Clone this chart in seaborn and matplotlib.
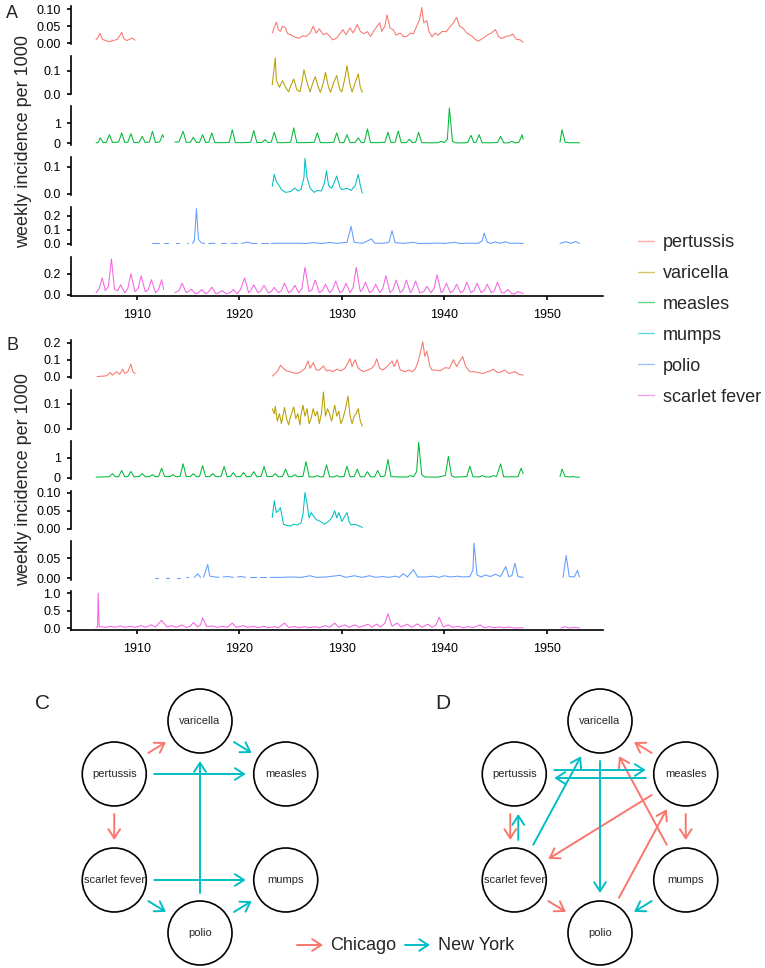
import numpy as np
import pandas as pd
import seaborn as sns
import matplotlib.pyplot as plt
from matplotlib.lines import Line2D
from matplotlib.patches import Circle, FancyArrowPatch

sns.set_theme(style='ticks')
plt.rcParams['font.family'] = ['Liberation Sans', 'DejaVu Sans']

diseases = ['pertussis', 'varicella', 'measles', 'mumps', 'polio', 'scarlet fever']
colors = ['#F8766D', '#B79F00', '#00BA38', '#00BFC4', '#619CFF', '#F564E3']
city_colors = {'Chicago': '#F8766D', 'New York': '#00BFC4'}
years_ticks = [1910, 1920, 1930, 1940, 1950]

# ---- panel A, weekly incidence per 1000 (segments split at gaps)
a_pertussis = [
    [(1906.0, 0.011), (1906.2, 0.018), (1906.4, 0.029), (1906.6, 0.012), (1906.9, 0.008), (1907.3, 0.005),
     (1907.7, 0.008), (1908.1, 0.012), (1908.5, 0.032), (1908.7, 0.014), (1909.0, 0.008), (1909.3, 0.012),
     (1909.5, 0.016), (1909.8, 0.009)],
    [(1923.2, 0.03), (1923.6, 0.062), (1923.8, 0.04), (1924.0, 0.035), (1924.2, 0.05), (1924.5, 0.045),
     (1924.7, 0.028), (1925.0, 0.025), (1925.4, 0.018), (1925.8, 0.015), (1926.2, 0.022), (1926.5, 0.02),
     (1926.9, 0.03), (1927.2, 0.05), (1927.5, 0.03), (1927.8, 0.042), (1928.2, 0.025), (1928.5, 0.03),
     (1928.9, 0.018), (1929.1, 0.01), (1929.5, 0.015), (1930.1, 0.04), (1930.4, 0.025), (1930.8, 0.045),
     (1931.1, 0.03), (1931.5, 0.055), (1931.8, 0.035), (1932.1, 0.028), (1932.5, 0.034), (1932.8, 0.02),
     (1933.2, 0.04), (1933.7, 0.06), (1933.9, 0.035), (1934.2, 0.05), (1934.4, 0.083), (1934.7, 0.045),
     (1935.0, 0.04), (1935.3, 0.024), (1935.7, 0.03), (1936.0, 0.02), (1936.3, 0.019), (1936.7, 0.03),
     (1937.0, 0.028), (1937.3, 0.05), (1937.6, 0.07), (1937.8, 0.105), (1938.0, 0.06), (1938.3, 0.066),
     (1938.5, 0.035), (1938.8, 0.019), (1939.1, 0.03), (1939.4, 0.024), (1939.8, 0.035), (1940.2, 0.034),
     (1940.6, 0.05), (1940.9, 0.06), (1941.2, 0.076), (1941.5, 0.05), (1941.8, 0.045), (1942.2, 0.03),
     (1942.7, 0.021), (1943.0, 0.012), (1943.3, 0.006), (1943.8, 0.015), (1944.2, 0.024), (1944.6, 0.03),
     (1945.0, 0.04), (1945.3, 0.02), (1945.6, 0.014), (1946.0, 0.02), (1946.4, 0.022), (1946.7, 0.027),
     (1947.0, 0.012), (1947.4, 0.01), (1947.7, 0.003)],
]
a_varicella = [
    [(1923.2, 0.04), (1923.5, 0.157), (1923.6, 0.06), (1923.9, 0.03), (1924.2, 0.058), (1924.5, 0.03),
     (1924.8, 0.01), (1925.0, 0.035), (1925.3, 0.066), (1925.6, 0.02), (1925.9, 0.01), (1926.1, 0.05),
     (1926.3, 0.105), (1926.6, 0.05), (1926.9, 0.01), (1927.1, 0.04), (1927.4, 0.075), (1927.7, 0.03),
     (1927.9, 0.008), (1928.2, 0.05), (1928.4, 0.094), (1928.7, 0.03), (1928.9, 0.008), (1929.2, 0.05),
     (1929.5, 0.08), (1929.8, 0.02), (1930.0, 0.01), (1930.3, 0.07), (1930.5, 0.123), (1930.8, 0.04),
     (1931.0, 0.01), (1931.3, 0.05), (1931.6, 0.087), (1931.8, 0.03), (1932.0, 0.007)],
]
a_measles = [
    [(1906.0, 0.02), (1906.2, 0.04), (1906.4, 0.27), (1906.7, 0.03), (1907.0, 0.05), (1907.3, 0.43),
     (1907.6, 0.04), (1908.2, 0.06), (1908.5, 0.52), (1908.8, 0.04), (1909.1, 0.06), (1909.4, 0.48),
     (1909.7, 0.03), (1910.2, 0.05), (1910.5, 0.35), (1910.8, 0.04), (1911.2, 0.06), (1911.5, 0.6),
     (1911.8, 0.04), (1912.2, 0.06), (1912.5, 0.43), (1912.6, 0.3)],
    [(1913.7, 0.06), (1914.1, 0.07), (1914.5, 0.6), (1914.8, 0.05), (1915.2, 0.05), (1915.5, 0.3),
     (1915.8, 0.04), (1916.1, 0.05), (1916.4, 0.43), (1916.7, 0.04), (1917.0, 0.05), (1917.3, 0.52),
     (1917.6, 0.03), (1918.3, 0.03), (1919.0, 0.04), (1919.3, 0.68), (1919.6, 0.03), (1920.4, 0.03),
     (1921.1, 0.05), (1921.4, 0.64), (1921.7, 0.03), (1922.2, 0.04), (1922.5, 0.18), (1922.8, 0.03),
     (1923.1, 0.05), (1923.4, 0.55), (1923.7, 0.03), (1924.4, 0.03), (1925.0, 0.05), (1925.3, 0.77),
     (1925.6, 0.03), (1926.5, 0.03), (1927.3, 0.05), (1927.6, 0.52), (1927.9, 0.03), (1928.6, 0.03),
     (1929.2, 0.05), (1929.5, 0.52), (1929.8, 0.03), (1930.2, 0.04), (1930.5, 0.43), (1930.8, 0.03),
     (1931.3, 0.04), (1931.6, 0.27), (1931.9, 0.03), (1932.2, 0.05), (1932.5, 0.72), (1932.8, 0.03),
     (1933.6, 0.03), (1934.2, 0.05), (1934.5, 0.55), (1934.8, 0.03), (1935.2, 0.05), (1935.5, 0.62),
     (1935.8, 0.03), (1936.3, 0.03), (1936.6, 0.2), (1936.9, 0.03), (1937.2, 0.05), (1937.5, 0.55),
     (1937.8, 0.03), (1938.8, 0.02), (1939.4, 0.03), (1939.7, 0.1), (1940.0, 0.03), (1940.3, 0.2),
     (1940.5, 1.77), (1940.8, 0.1), (1941.1, 0.02), (1942.0, 0.02), (1942.3, 0.05), (1942.6, 0.4),
     (1942.9, 0.03), (1943.1, 0.05), (1943.4, 0.43), (1943.7, 0.03), (1944.5, 0.02), (1945.2, 0.04),
     (1945.5, 0.35), (1945.8, 0.02), (1946.3, 0.02), (1946.6, 0.1), (1946.9, 0.02), (1947.3, 0.05),
     (1947.6, 0.43), (1947.7, 0.2)],
    [(1951.3, 0.05), (1951.5, 0.68), (1951.8, 0.05), (1952.3, 0.02), (1952.8, 0.03), (1953.2, 0.02)],
]
a_mumps = [
    [(1923.2, 0.027), (1923.4, 0.071), (1923.6, 0.045), (1923.8, 0.034), (1924.1, 0.015), (1924.5, 0.005),
     (1925.0, 0.008), (1925.4, 0.021), (1925.7, 0.01), (1926.0, 0.015), (1926.3, 0.06), (1926.4, 0.13),
     (1926.6, 0.059), (1926.9, 0.02), (1927.3, 0.005), (1927.6, 0.012), (1928.0, 0.01), (1928.3, 0.04),
     (1928.5, 0.084), (1928.7, 0.03), (1929.0, 0.02), (1929.3, 0.045), (1929.5, 0.065), (1929.8, 0.025),
     (1930.0, 0.015), (1930.5, 0.02), (1930.9, 0.012), (1931.3, 0.03), (1931.6, 0.071), (1931.8, 0.03),
     (1932.0, 0.002)],
]
a_polio = [
    [(1911.5, 0.002), (1912.1, 0.002)], [(1912.6, 0.002), (1913.0, 0.002)], [(1913.8, 0.002), (1914.1, 0.002)],
    [(1914.9, 0.002), (1915.0, 0.002)],
    [(1915.4, 0.002), (1915.6, 0.02), (1915.8, 0.25), (1916.0, 0.03), (1916.3, 0.005), (1916.6, 0.002)],
    [(1917.0, 0.002), (1917.6, 0.003)], [(1918.2, 0.002), (1918.7, 0.002)], [(1919.2, 0.003), (1919.8, 0.002)],
    [(1920.2, 0.002), (1920.8, 0.012), (1921.2, 0.002), (1921.7, 0.002)], [(1922.1, 0.002), (1922.8, 0.002)],
    [(1923.1, 0.002), (1924.0, 0.004), (1924.8, 0.003), (1925.6, 0.004), (1926.5, 0.002), (1927.3, 0.008),
     (1928.0, 0.002), (1928.8, 0.009), (1929.5, 0.003), (1930.5, 0.01), (1930.9, 0.124), (1931.2, 0.01),
     (1932.0, 0.003), (1932.9, 0.034), (1933.2, 0.004), (1934.0, 0.003), (1934.6, 0.01), (1934.9, 0.093),
     (1935.2, 0.008), (1936.0, 0.003), (1937.0, 0.01), (1937.5, 0.002), (1938.5, 0.003), (1939.4, 0.005),
     (1940.0, 0.002), (1941.0, 0.01), (1941.5, 0.002), (1942.5, 0.004), (1943.3, 0.003), (1943.7, 0.02),
     (1943.9, 0.076), (1944.2, 0.01), (1944.6, 0.003), (1945.0, 0.014), (1945.4, 0.003), (1946.0, 0.014),
     (1946.4, 0.003), (1947.0, 0.004), (1947.7, 0.002)],
    [(1951.3, 0.002), (1951.9, 0.015), (1952.3, 0.003), (1952.8, 0.015), (1953.2, 0.002)],
]
a_scarlet = [
    [(1906.0, 0.02), (1906.3, 0.06), (1906.6, 0.16), (1906.9, 0.04), (1907.2, 0.08), (1907.5, 0.34),
     (1907.8, 0.05), (1908.1, 0.04), (1908.4, 0.095), (1908.8, 0.02), (1909.1, 0.06), (1909.4, 0.2),
     (1909.8, 0.03), (1910.1, 0.06), (1910.4, 0.18), (1910.8, 0.03), (1911.1, 0.05), (1911.4, 0.143),
     (1911.8, 0.02), (1912.1, 0.05), (1912.4, 0.143), (1912.6, 0.05)],
    [(1913.7, 0.02), (1914.1, 0.04), (1914.4, 0.11), (1914.8, 0.02), (1915.0, 0.03), (1915.3, 0.054),
     (1915.7, 0.01), (1916.0, 0.02), (1916.3, 0.05), (1916.7, 0.01), (1917.0, 0.03), (1917.3, 0.073),
     (1917.7, 0.01), (1918.0, 0.02), (1918.3, 0.04), (1918.7, 0.01), (1919.1, 0.02), (1919.4, 0.05),
     (1919.8, 0.01), (1920.1, 0.05), (1920.5, 0.16), (1920.9, 0.02), (1921.1, 0.04), (1921.4, 0.095),
     (1921.8, 0.02), (1922.1, 0.04), (1922.4, 0.09), (1922.8, 0.02), (1923.1, 0.03), (1923.4, 0.07),
     (1923.8, 0.02), (1924.1, 0.04), (1924.4, 0.11), (1924.8, 0.02), (1925.1, 0.04), (1925.4, 0.09),
     (1925.8, 0.02), (1926.1, 0.06), (1926.4, 0.26), (1926.8, 0.03), (1927.1, 0.05), (1927.4, 0.14),
     (1927.8, 0.02), (1928.1, 0.04), (1928.4, 0.1), (1928.8, 0.02), (1929.1, 0.05), (1929.4, 0.13),
     (1929.8, 0.02), (1930.1, 0.04), (1930.4, 0.11), (1930.8, 0.02), (1931.1, 0.07), (1931.4, 0.26),
     (1931.8, 0.03), (1932.0, 0.05), (1932.3, 0.12), (1932.7, 0.02), (1933.0, 0.04), (1933.3, 0.1),
     (1933.7, 0.02), (1934.0, 0.06), (1934.3, 0.18), (1934.7, 0.02), (1935.0, 0.05), (1935.3, 0.14),
     (1935.7, 0.02), (1936.0, 0.05), (1936.3, 0.14), (1936.7, 0.02), (1936.9, 0.05), (1937.2, 0.13),
     (1937.6, 0.02), (1938.0, 0.03), (1938.3, 0.08), (1938.7, 0.02), (1939.0, 0.06), (1939.3, 0.19),
     (1939.7, 0.02), (1939.9, 0.04), (1940.2, 0.11), (1940.6, 0.02), (1940.9, 0.04), (1941.2, 0.1),
     (1941.6, 0.02), (1941.9, 0.04), (1942.2, 0.12), (1942.6, 0.02), (1942.9, 0.04), (1943.2, 0.11),
     (1943.6, 0.02), (1943.9, 0.04), (1944.2, 0.1), (1944.6, 0.02), (1944.9, 0.04), (1945.2, 0.12),
     (1945.6, 0.02), (1945.9, 0.02), (1946.2, 0.05), (1946.6, 0.01), (1946.9, 0.01), (1947.2, 0.03),
     (1947.7, 0.01)],
]

# ---- panel B
b_pertussis = [
    [(1906.1, 0.002), (1906.5, 0.004), (1907.0, 0.006), (1907.4, 0.025), (1907.6, 0.01), (1908.0, 0.03),
     (1908.3, 0.015), (1908.6, 0.045), (1908.8, 0.02), (1909.1, 0.03), (1909.4, 0.074), (1909.6, 0.03),
     (1909.8, 0.02)],
    [(1923.2, 0.005), (1923.5, 0.02), (1923.8, 0.04), (1924.0, 0.068), (1924.3, 0.05), (1924.6, 0.035),
     (1924.9, 0.03), (1925.2, 0.025), (1925.6, 0.02), (1926.0, 0.03), (1926.4, 0.05), (1926.7, 0.093),
     (1926.9, 0.05), (1927.2, 0.083), (1927.5, 0.04), (1927.8, 0.04), (1928.2, 0.064), (1928.5, 0.035),
     (1928.8, 0.04), (1929.1, 0.03), (1929.5, 0.045), (1929.9, 0.035), (1930.3, 0.05), (1930.8, 0.106),
     (1931.0, 0.06), (1931.3, 0.1), (1931.6, 0.05), (1932.1, 0.03), (1932.5, 0.04), (1932.9, 0.05),
     (1933.2, 0.07), (1933.4, 0.106), (1933.7, 0.05), (1934.0, 0.04), (1934.4, 0.06), (1934.9, 0.093),
     (1935.1, 0.06), (1935.4, 0.1), (1935.7, 0.04), (1936.2, 0.03), (1936.5, 0.04), (1936.9, 0.03),
     (1937.2, 0.05), (1937.5, 0.1), (1937.7, 0.15), (1937.9, 0.205), (1938.1, 0.12), (1938.3, 0.15),
     (1938.6, 0.06), (1938.8, 0.04), (1939.2, 0.04), (1939.6, 0.035), (1940.1, 0.054), (1940.5, 0.05),
     (1940.9, 0.1), (1941.2, 0.06), (1941.5, 0.09), (1941.8, 0.118), (1942.1, 0.06), (1942.5, 0.03),
     (1942.9, 0.03), (1943.3, 0.025), (1943.8, 0.02), (1944.2, 0.03), (1944.5, 0.035), (1944.8, 0.045),
     (1945.2, 0.025), (1945.6, 0.03), (1945.9, 0.04), (1946.3, 0.02), (1946.6, 0.025), (1946.9, 0.03),
     (1947.3, 0.015), (1947.7, 0.01)],
]
b_varicella = [
    [(1923.2, 0.08), (1923.4, 0.06), (1923.5, 0.09), (1923.7, 0.03), (1923.9, 0.06), (1924.1, 0.02),
     (1924.4, 0.085), (1924.6, 0.04), (1924.8, 0.015), (1925.0, 0.05), (1925.3, 0.087), (1925.5, 0.04),
     (1925.7, 0.06), (1925.9, 0.015), (1926.0, 0.05), (1926.2, 0.094), (1926.4, 0.05), (1926.6, 0.08),
     (1926.8, 0.02), (1927.0, 0.04), (1927.2, 0.08), (1927.4, 0.05), (1927.6, 0.07), (1927.8, 0.02),
     (1928.0, 0.06), (1928.2, 0.147), (1928.4, 0.05), (1928.6, 0.08), (1928.8, 0.06), (1929.0, 0.03),
     (1929.3, 0.094), (1929.5, 0.05), (1929.7, 0.07), (1929.9, 0.02), (1930.1, 0.04), (1930.3, 0.07),
     (1930.6, 0.13), (1930.8, 0.05), (1931.0, 0.02), (1931.2, 0.05), (1931.4, 0.06), (1931.6, 0.08),
     (1931.8, 0.03), (1932.0, 0.01)],
]
b_measles = [
    [(1906.0, 0.02), (1906.5, 0.03), (1907.0, 0.04), (1907.3, 0.05), (1907.6, 0.2), (1907.9, 0.04),
     (1908.2, 0.05), (1908.5, 0.36), (1908.8, 0.04), (1909.1, 0.05), (1909.4, 0.31), (1909.7, 0.04),
     (1910.2, 0.05), (1910.5, 0.2), (1910.8, 0.04), (1911.2, 0.04), (1911.5, 0.15), (1911.8, 0.04),
     (1912.1, 0.05), (1912.4, 0.48), (1912.7, 0.05), (1913.2, 0.05), (1913.5, 0.15), (1913.8, 0.04),
     (1914.2, 0.06), (1914.5, 0.7), (1914.8, 0.05), (1915.2, 0.05), (1915.5, 0.2), (1915.8, 0.04),
     (1916.1, 0.06), (1916.4, 0.61), (1916.7, 0.05), (1917.1, 0.05), (1917.4, 0.2), (1917.7, 0.04),
     (1918.2, 0.06), (1918.5, 0.56), (1918.8, 0.05), (1919.1, 0.05), (1919.4, 0.25), (1919.7, 0.04),
     (1920.1, 0.05), (1920.4, 0.26), (1920.7, 0.04), (1921.1, 0.05), (1921.4, 0.3), (1921.7, 0.04),
     (1922.1, 0.06), (1922.4, 0.56), (1922.7, 0.05), (1923.2, 0.05), (1923.5, 0.2), (1923.8, 0.04),
     (1924.2, 0.05), (1924.5, 0.43), (1924.8, 0.04), (1925.1, 0.04), (1925.4, 0.15), (1925.7, 0.04),
     (1926.2, 0.06), (1926.5, 0.81), (1926.8, 0.04), (1927.3, 0.03), (1927.6, 0.1), (1927.9, 0.03),
     (1928.2, 0.05), (1928.5, 0.65), (1928.8, 0.04), (1929.2, 0.03), (1929.5, 0.1), (1929.8, 0.03),
     (1930.2, 0.05), (1930.5, 0.58), (1930.8, 0.04), (1931.2, 0.05), (1931.5, 0.43), (1931.8, 0.04),
     (1932.2, 0.04), (1932.5, 0.3), (1932.8, 0.04), (1933.2, 0.04), (1933.5, 0.36), (1933.8, 0.04),
     (1934.2, 0.08), (1934.5, 0.92), (1934.8, 0.05), (1935.5, 0.03), (1936.4, 0.03), (1936.7, 0.1),
     (1937.0, 0.04), (1937.3, 0.3), (1937.5, 1.8), (1937.8, 0.15), (1938.1, 0.03), (1939.3, 0.02),
     (1940.1, 0.1), (1940.4, 1.08), (1940.7, 0.1), (1941.0, 0.02), (1942.2, 0.05), (1942.5, 0.58),
     (1942.8, 0.04), (1943.4, 0.03), (1943.7, 0.1), (1944.0, 0.03), (1944.5, 0.03), (1944.8, 0.1),
     (1945.1, 0.05), (1945.5, 0.7), (1945.8, 0.04), (1946.3, 0.03), (1946.6, 0.05), (1946.9, 0.03),
     (1947.2, 0.05), (1947.5, 0.48), (1947.7, 0.2)],
    [(1951.3, 0.05), (1951.5, 0.43), (1951.8, 0.05), (1952.3, 0.03), (1952.6, 0.05), (1952.9, 0.02),
     (1953.2, 0.02)],
]
b_mumps = [
    [(1923.2, 0.031), (1923.4, 0.078), (1923.6, 0.045), (1923.8, 0.05), (1924.0, 0.059), (1924.3, 0.012),
     (1924.7, 0.008), (1925.0, 0.007), (1925.3, 0.012), (1925.6, 0.01), (1926.0, 0.015), (1926.2, 0.04),
     (1926.4, 0.101), (1926.6, 0.07), (1926.8, 0.03), (1927.0, 0.045), (1927.2, 0.036), (1927.5, 0.025),
     (1927.9, 0.02), (1928.3, 0.012), (1928.7, 0.02), (1929.0, 0.03), (1929.3, 0.05), (1929.5, 0.03),
     (1929.7, 0.045), (1930.0, 0.02), (1930.3, 0.035), (1930.5, 0.045), (1930.7, 0.02), (1930.9, 0.01),
     (1931.3, 0.012), (1931.6, 0.008), (1932.0, 0.003)],
]
b_polio = [
    [(1911.8, 0.001), (1912.0, 0.001)], [(1912.8, 0.001), (1913.1, 0.001)], [(1913.9, 0.001), (1914.2, 0.001)],
    [(1914.8, 0.002), (1915.0, 0.002)], [(1915.6, 0.002), (1915.9, 0.011), (1916.2, 0.002)],
    [(1916.5, 0.002), (1916.9, 0.034), (1917.1, 0.005), (1917.6, 0.003), (1918.0, 0.002)],
    [(1918.4, 0.003), (1918.9, 0.004), (1919.4, 0.002)], [(1919.8, 0.003), (1920.2, 0.004), (1920.6, 0.002)],
    [(1921.0, 0.002), (1921.6, 0.002)], [(1922.0, 0.002), (1922.6, 0.002)],
    [(1923.0, 0.002), (1924.0, 0.002), (1925.0, 0.003), (1926.0, 0.002), (1926.9, 0.006), (1927.5, 0.002),
     (1928.5, 0.003), (1929.8, 0.007), (1930.4, 0.002), (1931.2, 0.006), (1932.0, 0.002), (1932.7, 0.006),
     (1933.3, 0.002), (1934.0, 0.004), (1934.6, 0.002), (1935.2, 0.005), (1935.6, 0.002), (1936.0, 0.011),
     (1936.4, 0.003), (1937.0, 0.021), (1937.4, 0.003), (1938.2, 0.003), (1938.9, 0.005), (1939.5, 0.002),
     (1940.0, 0.006), (1940.6, 0.003), (1941.3, 0.005), (1941.8, 0.003), (1942.5, 0.004), (1942.8, 0.02),
     (1942.9, 0.088), (1943.2, 0.008), (1943.6, 0.003), (1944.0, 0.008), (1944.5, 0.004), (1945.0, 0.01),
     (1945.5, 0.004), (1946.0, 0.029), (1946.3, 0.004), (1946.6, 0.006), (1946.9, 0.037), (1947.2, 0.004),
     (1947.7, 0.002)],
    [(1951.6, 0.002), (1951.9, 0.057), (1952.2, 0.004), (1952.7, 0.003), (1953.0, 0.019), (1953.2, 0.003)],
]
b_scarlet = [
    [(1906.0, 0.02), (1906.15, 0.05), (1906.2, 1.0), (1906.3, 0.05), (1906.6, 0.04), (1907.0, 0.03),
     (1907.4, 0.06), (1907.8, 0.03), (1908.4, 0.07), (1908.8, 0.03), (1909.4, 0.06), (1909.8, 0.03),
     (1910.4, 0.08), (1910.8, 0.03), (1911.4, 0.1), (1911.8, 0.04), (1912.4, 0.23), (1912.9, 0.04),
     (1913.4, 0.08), (1913.8, 0.03), (1914.4, 0.1), (1914.8, 0.03), (1915.2, 0.06), (1915.5, 0.17),
     (1915.9, 0.04), (1916.2, 0.1), (1916.4, 0.3), (1916.8, 0.05), (1917.4, 0.07), (1917.8, 0.03),
     (1918.4, 0.06), (1918.8, 0.03), (1919.3, 0.15), (1919.7, 0.03), (1920.4, 0.08), (1920.8, 0.03),
     (1921.4, 0.06), (1921.8, 0.02), (1922.4, 0.06), (1922.8, 0.02), (1923.4, 0.05), (1923.8, 0.02),
     (1924.4, 0.15), (1924.8, 0.03), (1925.4, 0.05), (1925.8, 0.02), (1926.4, 0.05), (1926.8, 0.02),
     (1927.4, 0.05), (1927.8, 0.02), (1928.4, 0.08), (1928.8, 0.03), (1929.3, 0.15), (1929.7, 0.03),
     (1930.3, 0.1), (1930.7, 0.03), (1931.3, 0.1), (1931.7, 0.03), (1932.3, 0.09), (1932.6, 0.12),
     (1932.9, 0.03), (1933.4, 0.12), (1933.8, 0.04), (1934.2, 0.15), (1934.5, 0.42), (1934.9, 0.06),
     (1935.4, 0.15), (1935.8, 0.04), (1936.4, 0.12), (1936.8, 0.03), (1937.4, 0.13), (1937.8, 0.03),
     (1938.4, 0.12), (1938.8, 0.03), (1939.2, 0.1), (1939.5, 0.32), (1939.9, 0.04), (1940.4, 0.1),
     (1940.8, 0.03), (1941.4, 0.06), (1941.8, 0.02), (1942.4, 0.05), (1942.8, 0.02), (1943.5, 0.1),
     (1943.9, 0.02), (1944.4, 0.05), (1944.8, 0.02), (1945.4, 0.04), (1945.8, 0.02), (1946.4, 0.04),
     (1946.8, 0.01), (1947.7, 0.02)],
    [(1951.4, 0.01), (1951.8, 0.05), (1952.2, 0.01), (1952.8, 0.03), (1953.2, 0.01)],
]

a_yticks = [[0, 0.05, 0.10], [0, 0.1], [0, 1], [0, 0.1], [0, 0.1, 0.2], [0, 0.2]]
a_yticklabels = [['0.00', '0.05', '0.10'], ['0.0', '0.1'], ['0', '1'], ['0.0', '0.1'],
                 ['0.0', '0.1', '0.2'], ['0.0', '0.2']]
b_yticks = [[0, 0.1, 0.2], [0, 0.1], [0, 1], [0, 0.05, 0.10], [0, 0.05], [0, 0.5, 1.0]]
b_yticklabels = [['0.0', '0.1', '0.2'], ['0.0', '0.1'], ['0', '1'], ['0.00', '0.05', '0.10'],
                 ['0.00', '0.05'], ['0.0', '0.5', '1.0']]

# ---- panels C and D: directed links between diseases
c_chicago = [('pertussis', 'varicella'), ('pertussis', 'scarlet fever')]
c_newyork = [('varicella', 'measles'), ('pertussis', 'measles'), ('scarlet fever', 'mumps'),
             ('polio', 'varicella'), ('scarlet fever', 'polio'), ('polio', 'mumps')]
d_chicago = [('measles', 'varicella'), ('mumps', 'varicella'), ('measles', 'scarlet fever'),
             ('polio', 'measles'), ('measles', 'mumps'), ('pertussis', 'scarlet fever'),
             ('scarlet fever', 'polio')]
d_newyork = [('pertussis', 'measles'), ('measles', 'pertussis'), ('scarlet fever', 'varicella'),
             ('varicella', 'polio'), ('scarlet fever', 'pertussis'), ('mumps', 'polio')]

# hexagon layout, angle of each node
layout_angles = {'varicella': 90, 'measles': 30, 'mumps': -30, 'polio': -90,
                 'scarlet fever': 210, 'pertussis': 150}

W, H = 765, 968
fig = plt.figure(figsize=(W / 100, H / 100), dpi=100)


def px_axes(x0, y0, w, h):
    return fig.add_axes([x0 / W, 1 - (y0 + h) / H, w / W, h / H])


def draw_panel(series, yticks, yticklabels, top):
    n = len(series)
    for i, segs in enumerate(series):
        ax = px_axes(71, top + 50.3 * i, 532, 38.3)
        rows = [(k, yr, v) for k, seg in enumerate(segs) for yr, v in seg]
        df = pd.DataFrame(rows, columns=['segment', 'year', 'incidence'])
        sns.lineplot(data=df, x='year', y='incidence', units='segment', estimator=None,
                     color=colors[i], lw=0.75, ax=ax)
        lo, hi = df['incidence'].min(), df['incidence'].max()
        pad = 0.05 * (hi - lo)
        ax.set_ylim(lo - pad, hi + pad)
        ax.set_xlim(1903.55, 1955.5)
        ax.set_yticks(yticks[i])
        ax.set_yticklabels(yticklabels[i])
        ax.set_xlabel('')
        ax.set_ylabel('')
        ax.patch.set_alpha(0)
        for s in ['top', 'right']:
            ax.spines[s].set_visible(False)
        ax.spines['left'].set_linewidth(1.2)
        ax.spines['left'].set_color('black')
        ax.tick_params(axis='y', length=3, width=1.2, color='black', labelsize=9, pad=4.5, labelcolor='black')
        if i < n - 1:
            ax.spines['bottom'].set_visible(False)
            ax.set_xticks([])
        else:
            ax.spines['bottom'].set_linewidth(1.2)
            ax.spines['bottom'].set_color('black')
            ax.set_xticks(years_ticks)
            ax.set_xticklabels([str(y) for y in years_ticks])
            ax.tick_params(axis='x', length=3, width=1.2, color='black', labelsize=9, pad=6.5,
                           labelcolor='black')


draw_panel([a_pertussis, a_varicella, a_measles, a_mumps, a_polio, a_scarlet], a_yticks, a_yticklabels, 5.7)
draw_panel([b_pertussis, b_varicella, b_measles, b_mumps, b_polio, b_scarlet], b_yticks, b_yticklabels, 340)

fig.text(24 / W, 1 - 142 / H, 'weekly incidence per 1000', rotation=90, ha='center', va='center', fontsize=13)
fig.text(24 / W, 1 - 480 / H, 'weekly incidence per 1000', rotation=90, ha='center', va='center', fontsize=13)
fig.text(12 / W, 1 - 14 / H, 'A', ha='center', va='center', fontsize=13)
fig.text(12 / W, 1 - 345 / H, 'B', ha='center', va='center', fontsize=13)

handles = [Line2D([], [], color=c, lw=1, alpha=0.6) for c in colors]
fig.legend(handles, diseases, loc='upper left', bbox_to_anchor=(638 / W, 1 - 234 / H), frameon=False,
           fontsize=13, handlelength=0.9, handletextpad=0.5, labelspacing=0.77, borderpad=0,
           borderaxespad=0)

# ---- networks
net = fig.add_axes([0, 0, 1, 313 / H])
net.set_xlim(0, W)
net.set_ylim(H, H - 313)
net.axis('off')


def draw_network(cx, cy, chicago, newyork):
    pos = {k: (cx + 99 * np.cos(np.radians(a)), cy - 106 * np.sin(np.radians(a)))
           for k, a in layout_angles.items()}
    edges = [(u, v, 'Chicago') for u, v in chicago] + [(u, v, 'New York') for u, v in newyork]
    pairs = {(u, v) for u, v, _ in edges}
    for u, v, city in edges:
        p, q = np.array(pos[u]), np.array(pos[v])
        d = (q - p) / np.linalg.norm(q - p)
        start, end = p + 40 * d, q - 40 * d
        if (v, u) in pairs:
            nrm = np.array([-d[1], d[0]])
            if np.dot(nrm, (p + q) / 2 - np.array([cx, cy])) < 0:
                nrm = -nrm
            side = 1 if diseases.index(u) < diseases.index(v) else -1
            start, end = start + 4 * side * nrm, end + 4 * side * nrm
        net.add_patch(FancyArrowPatch(start, end, arrowstyle='->,head_length=0.65,head_width=0.42',
                                      mutation_scale=10, color=city_colors[city], lw=1.4,
                                      shrinkA=0, shrinkB=0))
    for name, (x, y) in pos.items():
        net.add_patch(Circle((x, y), 32, facecolor='white', edgecolor='black', lw=1.2, zorder=3))
        net.text(x, y, name, ha='center', va='center', fontsize=8, zorder=4)


draw_network(200, 827, c_chicago, c_newyork)
draw_network(600, 827, d_chicago, d_newyork)
net.text(43, 703, 'C', ha='center', va='center', fontsize=15)
net.text(443, 703, 'D', ha='center', va='center', fontsize=15)

for (x0, x1, tx), city in zip([(297, 323, 330), (405, 430, 438)], ['Chicago', 'New York']):
    net.add_patch(FancyArrowPatch((x0, 945), (x1, 945), arrowstyle='->,head_length=0.65,head_width=0.42',
                                  mutation_scale=10, color=city_colors[city], lw=1.4, shrinkA=0, shrinkB=0))
    net.text(tx, 945, city, ha='left', va='center', fontsize=13)

fig.savefig('out.png', dpi=100)
